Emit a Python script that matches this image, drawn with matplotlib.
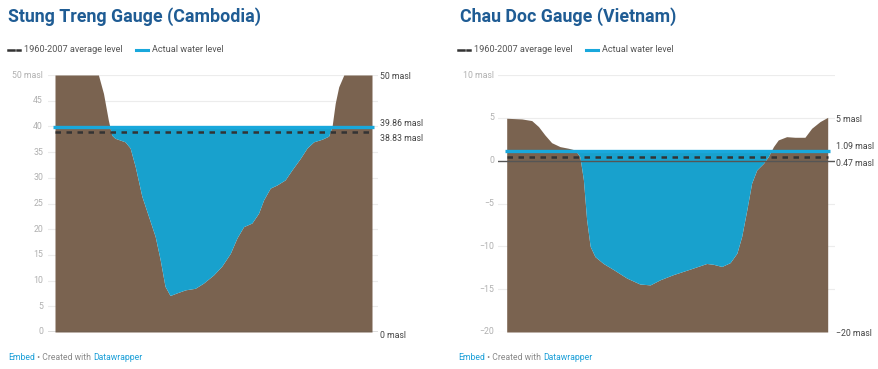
import matplotlib
matplotlib.use("Agg")
import matplotlib.pyplot as plt
import numpy as np

plt.rcParams['font.family'] = ['Roboto', 'DejaVu Sans']

# Stung Treng (Cambodia) river bed profile, distance in % of width, elevation in masl
st_x = [0, 13.7, 15.3, 16.8, 17.9, 18.9, 22.1, 23.7, 25.3, 27.4, 29.5, 31.6, 33.2, 34.7,
        36.3, 38.4, 41.1, 44.2, 46.8, 50, 52.6, 55.3, 57.4, 59.5, 62.1, 64.2, 65.8, 67.9,
        70, 72.6, 74.7, 77.4, 79.5, 81.6, 84.2, 86.3, 87.4, 88.4, 89.5, 91.1, 100]
st_bed = [50, 50, 46.4, 41.3, 38.3, 37.7, 37.0, 35.8, 32.2, 26.4, 22.5, 18.6, 14.0, 8.9,
          7.1, 7.6, 8.2, 8.5, 9.5, 11.1, 12.8, 15.3, 18.3, 20.5, 21.2, 23.1, 25.7, 28.0,
          28.6, 29.6, 31.5, 33.8, 35.8, 37.0, 37.5, 38.1, 40.0, 44.5, 47.7, 50, 50]
st_actual = 39.86
st_avg = 38.83
st_ticks = [0, 5, 10, 15, 20, 25, 30, 35, 40, 45, 50]

# Chau Doc (Vietnam)
cd_x = [0, 4.7, 7.8, 9.9, 11.9, 14, 16.6, 19.2, 21.3, 22.8, 23.9, 24.9, 26, 27.5, 30.1,
        33.2, 37.4, 41.5, 44.7, 47.8, 51.9, 57.1, 62.3, 64.4, 67, 69.6, 71.7, 73.2, 74.8,
        76.3, 77.9, 80, 81.5, 83.1, 84.6, 87.2, 89.8, 92.9, 95, 97.6, 100]
cd_bed = [4.95, 4.87, 4.68, 3.98, 3.0, 2.1, 1.64, 1.45, 1.25, 0.47, -2.24, -6.9, -10.0,
          -11.2, -12.0, -12.7, -13.7, -14.4, -14.5, -13.9, -13.3, -12.66, -12.0, -12.1,
          -12.35, -11.9, -10.8, -8.85, -5.74, -2.63, -1.08, -0.3, 0.48, 1.64, 2.42, 2.8,
          2.73, 2.73, 3.78, 4.56, 5.06]
cd_actual = 1.09
cd_avg = 0.47
cd_ticks = [-20, -15, -10, -5, 0, 5, 10]

BROWN = '#7a6350'
WATER = '#18a1cd'
LINE = '#19a8dc'
TITLE = '#1f5c94'
LINK = '#1a9fd8'
W, H = 879, 369

fig = plt.figure(figsize=(W / 100, H / 100), dpi=100)
renderer = fig.canvas.get_renderer()


def px(x, y):
    return x / W, 1 - y / H


def chain(x, y, parts, size):
    # write text pieces one after another on one line
    for s, c in parts:
        t = fig.text(*px(x, y), s, ha='left', va='center', fontsize=size, color=c)
        x += t.get_window_extent(renderer).width


def panel(xs, bed, actual, avg, ticks, top_label, right_labels,
          ax_left, ax_right, d0, d100, tick_x, label_x, ytop=75, ybot=332):
    sc = (d100 - d0) / 100.0
    ax = fig.add_axes([ax_left / W, 1 - ybot / H, (ax_right - ax_left) / W, (ybot - ytop) / H])
    ax.set_xlim(-(d0 - ax_left) / sc, 100 + (ax_right - d100) / sc)
    ymin, ymax = ticks[0], ticks[-1]
    ax.set_ylim(ymin, ymax)
    ax.axis('off')
    for t in ticks:
        if t != 0:
            ax.axhline(t, color='#ececec', lw=0.8, zorder=0)
    xs = np.array(xs, float)
    bed = np.array(bed, float)
    ax.fill_between(xs, ymin, bed, color=BROWN, lw=0, zorder=2)
    ax.fill_between(xs, bed, actual, where=bed < actual, interpolate=True,
                    color=WATER, lw=0, zorder=2)
    ax.axhline(0, color='#555555', lw=1, zorder=3)
    ax.plot([-0.6, 100.6], [actual, actual], color=LINE, lw=2.4, zorder=4,
            solid_capstyle='butt')
    ax.plot([0, 100], [avg, avg], color='#333333', lw=1.8, zorder=4, dashes=(2.2, 2.2))
    for t in ticks:
        if t == ymax:
            lab = top_label
        elif t < 0:
            lab = '\u2212' + str(-t)
        else:
            lab = str(t)
        ax.text((tick_x - d0) / sc, t, lab, ha='right', va='center', fontsize=6.3,
                color='#b0b0b0', clip_on=False)
    for v, lab in right_labels:
        ax.text((label_x - d0) / sc, v, lab, ha='left', va='center', fontsize=6.3,
                color='#444444', clip_on=False)
    return ax


panel(st_x, st_bed, st_actual, st_avg, st_ticks, '50 masl',
      [(49.7, '50 masl'), (40.6, '39.86 masl'), (37.6, '38.83 masl'), (-0.6, '0 masl')],
      48, 378, 55, 372, 43, 380)
panel(cd_x, cd_bed, cd_actual, cd_avg, cd_ticks, '10 masl',
      [(4.8, '5 masl'), (1.6, '1.09 masl'), (-0.35, '0.47 masl'), (-20.2, '\u221220 masl')],
      498, 835, 506.7, 827.7, 494, 836)

# titles, legends and footers
for x0, lx, title in [(8, 8, 'Stung Treng Gauge (Cambodia)'), (460, 458, 'Chau Doc Gauge (Vietnam)')]:
    fig.text(*px(x0, 17), title, ha='left', va='center', fontsize=12.8,
             fontweight='bold', color=TITLE)
    ly = 1 - 50 / H
    fig.add_artist(plt.Line2D([lx / W, (lx + 6) / W], [ly, ly], color='#333333', lw=1.8))
    fig.add_artist(plt.Line2D([(lx + 9) / W, (lx + 12) / W], [ly, ly], color='#333333', lw=1.8))
    fig.text(*px(lx + 16, 50), '1960-2007 average level', ha='left', va='center',
             fontsize=6.6, color='#555555')
    bx = lx + 128
    fig.add_artist(plt.Line2D([bx / W, (bx + 12) / W], [ly, ly], color=LINE, lw=2.2))
    fig.text(*px(bx + 16, 50), 'Actual water level', ha='left', va='center',
             fontsize=6.6, color='#555555')
    chain(lx, 357, [('Embed', LINK), (' \u2022 Created with ', '#888888'),
                    ('Datawrapper', LINK)], 6.2)

fig.savefig('out.png', dpi=100, facecolor='white')
